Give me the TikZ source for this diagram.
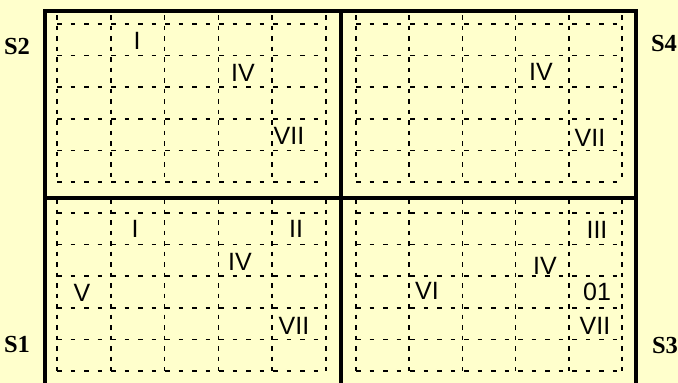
\documentclass[tikz,border=0pt]{standalone}
\usepackage{fontspec}
\setmainfont{Liberation Serif}
\setsansfont{Liberation Sans}
\usepackage{xcolor}
\usepackage{tikz}
\definecolor{paper}{HTML}{FFFFCC}

\begin{document}
\begin{tikzpicture}[x=1pt, y=-1pt,
    frame/.style={line width=3.4pt},
    hline/.style={line width=1.5pt, dash pattern=on 4.5pt off 9pt},
    vline/.style={line width=1.5pt, dash pattern=on 4.5pt off 6pt},
    num/.style={font=\sffamily\fontsize{25}{25}\selectfont, inner sep=0pt},
    side/.style={font=\bfseries\fontsize{24.5}{24.5}\selectfont, inner sep=0pt}]
    \fill [paper] (0,0) rectangle (678,383);
    \useasboundingbox (0,0) rectangle (678,383);

    % dashed grid, one per quarter
    \foreach \k in {0,...,5} {
        \draw [hline] (57,24+31.6*\k) -- (326,24+31.6*\k);
        \draw [hline] (356,24+31.6*\k) -- (622,24+31.6*\k);
        \draw [hline] (57,213+31.6*\k) -- (326,213+31.6*\k);
        \draw [hline] (356,213+31.6*\k) -- (622,213+31.6*\k);
        \draw [vline] (57+53.8*\k,15) -- (57+53.8*\k,182);
        \draw [vline] (356+53.2*\k,15) -- (356+53.2*\k,182);
        \draw [vline] (57+53.8*\k,199) -- (57+53.8*\k,371);
        \draw [vline] (356+53.2*\k,199) -- (356+53.2*\k,371);
    }

    % frame
    \draw [frame] (45,392) -- (45,11) -- (636,11) -- (636,392);
    \draw [frame] (341,11) -- (341,392);
    \draw [frame] (45,198) -- (636,198);

    % side labels
    \node [side] (s2) at (17,47) {S2};
    \node [side] (s1) at (17,345) {S1};
    \node [side] (s4) at (664,44) {S4};
    \node [side] (s3) at (665,346) {S3};

    % upper left
    \node [num] (ulone) at (137,41) {I};
    \node [num] (ulfour) at (243,73) {IV};
    \node [num] (ulseven) at (289,136) {VII};
    % upper right
    \node [num] (urfour) at (541,72) {IV};
    \node [num] (urseven) at (590,138) {VII};
    % lower left
    \node [num] (llone) at (135,229) {I};
    \node [num] (lltwo) at (296,229) {II};
    \node [num] (llfour) at (240,262) {IV};
    \node [num] (llfive) at (82,293) {V};
    \node [num] (llseven) at (294,326) {VII};
    % lower right
    \node [num] (lrthree) at (597,230) {III};
    \node [num] (lrfour) at (545,266) {IV};
    \node [num] (lrsix) at (427,291) {VI};
    \node [num] (lrzero) at (597,292) {01};
    \node [num] (lrseven) at (595,326) {VII};
\end{tikzpicture}
\end{document}
